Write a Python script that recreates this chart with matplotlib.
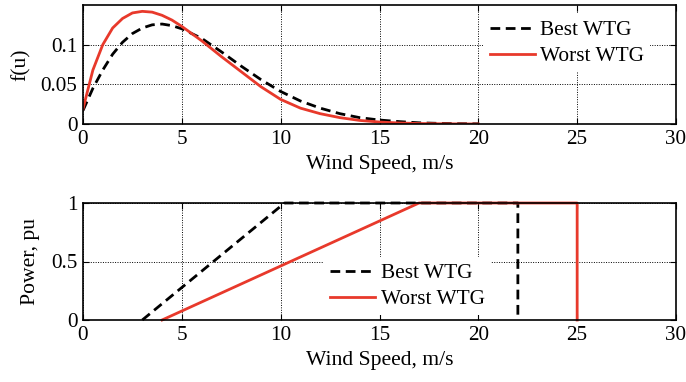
import matplotlib
matplotlib.use("Agg")
import matplotlib.pyplot as plt

# ---- data ----
u_pdf = [0, 0.5, 1, 1.5, 2, 2.5, 3, 3.5, 4, 4.5, 5, 5.5, 6, 7, 8, 9, 10,
         11, 12, 13, 14, 15, 16, 17, 18, 19, 20]
pdf_best = [0.017, 0.045, 0.068, 0.088, 0.103, 0.114, 0.121, 0.125, 0.126,
            0.124, 0.120, 0.114, 0.108, 0.091, 0.073, 0.056, 0.041,
            0.029, 0.020, 0.013, 0.008, 0.005, 0.003, 0.0015, 0.0008, 0.0004, 0.0002]
pdf_worst = [0.019, 0.068, 0.100, 0.121, 0.133, 0.140, 0.142, 0.141, 0.137,
             0.131, 0.123, 0.114, 0.105, 0.085, 0.066, 0.047, 0.031,
             0.020, 0.013, 0.008, 0.0045, 0.0025, 0.0013, 0.0006, 0.0003, 0.0001, 0.0]

u_pc_best = [3, 10.2, 22, 22]
pc_best = [0, 1, 1, 0]
u_pc_worst = [4, 17, 25, 25]
pc_worst = [0, 1, 1, 0]

labels = ["Best WTG", "Worst WTG"]
x_ticks = [0, 5, 10, 15, 20, 25, 30]
top_yticks = [0, 0.05, 0.1]
top_yticklabels = ["0", "0.05", "0.1"]
bot_yticks = [0, 0.5, 1]
bot_yticklabels = ["0", "0.5", "1"]

RED = "#E8392B"
plt.rcParams['font.family'] = ['Liberation Serif', 'DejaVu Serif']

fig = plt.figure(figsize=(6.86, 3.82), dpi=100)
ax1 = fig.add_axes([83/686, 1-124/382, 593/686, 119/382])
ax2 = fig.add_axes([83/686, 1-320/382, 593/686, 117/382])

FS = 15.6
LFS = 15.4
LW = 2.0

def style(ax):
    ax.set_xlim(0, 30)
    ax.set_xticks(x_ticks)
    ax.grid(True, color='black', linestyle=(0, (1, 1.5)), linewidth=0.7)
    ax.tick_params(direction='in', top=True, right=True, labelsize=15.2,
                   length=4, width=0.8, pad=4)
    for s in ax.spines.values():
        s.set_linewidth(1.2)
    ax.set_xlabel("Wind Speed, m/s", fontsize=FS, labelpad=5)

leg_kw = dict(loc='center', fontsize=LFS, frameon=True, framealpha=1,
              edgecolor='none', fancybox=False, handlelength=2.1,
              handletextpad=0.25, labelspacing=0.28, borderpad=0.3)

ax1.plot(u_pdf, pdf_best, color='black', linestyle='--', dashes=(3.5, 2),
         linewidth=LW, label=labels[0])
ax1.plot(u_pdf, pdf_worst, color=RED, linewidth=LW, label=labels[1])
ax1.set_ylim(0, 0.15)
ax1.set_yticks(top_yticks)
ax1.set_yticklabels(top_yticklabels)
ax1.set_ylabel("f(u)", fontsize=FS, labelpad=7)
style(ax1)
ax1.legend(bbox_to_anchor=(0.816, 0.68), **leg_kw)

ax2.plot(u_pc_best, pc_best, color='black', linestyle='--', dashes=(3.5, 2),
         linewidth=LW, label=labels[0], clip_on=False)
ax2.plot(u_pc_worst, pc_worst, color=RED, linewidth=LW, label=labels[1],
         clip_on=False)
ax2.set_ylim(0, 1)
ax2.set_yticks(bot_yticks)
ax2.set_yticklabels(bot_yticklabels)
ax2.set_ylabel("Power, pu", fontsize=FS, labelpad=8)
style(ax2)
ax2.legend(bbox_to_anchor=(0.547, 0.29), **leg_kw)

fig.savefig("out.png", dpi=100)
